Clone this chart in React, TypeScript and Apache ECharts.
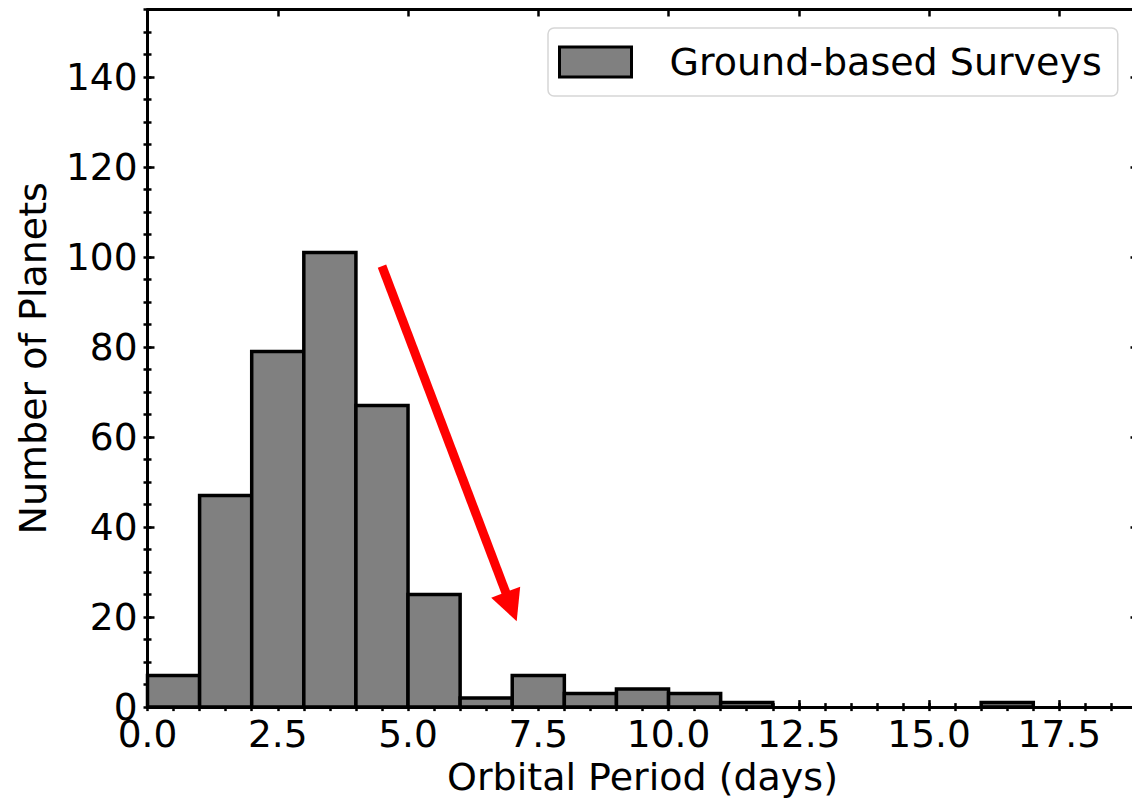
import React, { useEffect, useRef } from "react";
import * as echarts from "echarts";

// Histogram bins (orbital period, days) and counts
const binEdges = [0, 1, 2, 3, 4, 5, 6, 7, 8, 9, 10, 11, 12, 13, 14, 15, 16, 17];
const counts = [7, 47, 79, 101, 67, 25, 2, 7, 3, 4, 3, 1, 0, 0, 0, 0, 1];
const seriesName = "Ground-based Surveys";
// Annotation arrow (data coords): tail, head centre
const arrowFrom = [4.5, 98];
const arrowTo = [6.98, 22.3];
// Axis ranges
const xRange = [0, 19];
const yRange = [0, 155];
const xMajor = 2.5;
const xMinor = 0.5;
const yMajor = 20;
const yMinor = 5;

const FONT = "DejaVu Sans";

export default function App() {
  const ref = useRef<HTMLDivElement>(null);
  useEffect(() => {
    if (!ref.current) return;
    const chart = echarts.init(ref.current, null, { renderer: "svg" });
    const data = counts.map((c, i) => [binEdges[i], binEdges[i] + 1, c]);

    const baseX = {
      type: "value",
      min: xRange[0],
      max: xRange[1],
      splitLine: { show: false },
    };
    const baseY = {
      type: "value",
      min: yRange[0],
      max: yRange[1],
      splitLine: { show: false },
    };
    const majorTick = { show: true, inside: true, length: 7, lineStyle: { color: "#000", width: 2.5 } };
    const minorTickAx = { show: true, inside: true, length: 4, lineStyle: { color: "#000", width: 2.5 } };
    const axLine = { show: true, onZero: false, lineStyle: { color: "#000", width: 3 } };

    chart.setOption({
      animation: false,
      backgroundColor: "#fff",
      grid: { left: 147.5, top: 9.5, width: 990, height: 700.5, containLabel: false },
      legend: {
        left: 548,
        top: 28,
        orient: "horizontal",
        padding: [15, 16, 15, 10],
        backgroundColor: "#fff",
        borderColor: "#d6d6d6",
        borderWidth: 1.5,
        borderRadius: 6,
        itemWidth: 72,
        itemHeight: 30,
        data: [
          {
            name: seriesName,
            icon: "rect",
            itemStyle: { color: "#808080", borderColor: "#000", borderWidth: 3 },
          },
        ],
        textStyle: { fontFamily: FONT, fontSize: 38, color: "#000", padding: [0, 0, 0, 33] },
      },
      xAxis: [
        {
          ...baseX,
          position: "bottom",
          interval: xMajor,
          axisLine: axLine,
          axisTick: majorTick,
          axisLabel: {
            show: true,
            margin: 8,
            fontFamily: FONT,
            fontSize: 37.5,
            color: "#000",
            showMaxLabel: false,
            formatter: (v: number) => v.toFixed(1),
          },
          name: "Orbital Period (days)",
          nameLocation: "middle",
          nameGap: 47,
          nameTextStyle: { fontFamily: FONT, fontSize: 38, color: "#000" },
        },
        {
          ...baseX,
          position: "top",
          interval: xMajor,
          axisLine: axLine,
          axisTick: majorTick,
          axisLabel: { show: false },
        },
        {
          ...baseX,
          position: "bottom",
          interval: xMinor,
          axisLine: { show: false },
          axisTick: minorTickAx,
          axisLabel: { show: false },
        },
        {
          ...baseX,
          position: "top",
          interval: xMinor,
          axisLine: { show: false },
          axisTick: minorTickAx,
          axisLabel: { show: false },
        },
      ],
      yAxis: [
        {
          ...baseY,
          position: "left",
          interval: yMajor,
          axisLine: axLine,
          axisTick: majorTick,
          axisLabel: {
            show: true,
            margin: 10,
            fontFamily: FONT,
            fontSize: 37.5,
            color: "#000",
            showMaxLabel: false,
          },
          name: "Number of Planets",
          nameLocation: "middle",
          nameGap: 96,
          nameTextStyle: { fontFamily: FONT, fontSize: 38, color: "#000" },
        },
        {
          ...baseY,
          position: "right",
          interval: yMajor,
          axisLine: axLine,
          axisTick: majorTick,
          axisLabel: { show: false },
        },
        {
          ...baseY,
          position: "left",
          interval: yMinor,
          axisLine: { show: false },
          axisTick: minorTickAx,
          axisLabel: { show: false },
        },
        {
          ...baseY,
          position: "right",
          interval: yMinor,
          axisLine: { show: false },
          axisTick: minorTickAx,
          axisLabel: { show: false },
        },
      ],
      series: [
        {
          type: "custom",
          name: seriesName,
          xAxisIndex: 0,
          yAxisIndex: 0,
          data,
          encode: { x: [0, 1], y: 2 },
          itemStyle: { color: "#808080", borderColor: "#000", borderWidth: 3 },
          renderItem: (params: any, api: any) => {
            const v = api.value(2);
            if (!v) return null;
            const p0 = api.coord([api.value(0), v]);
            const p1 = api.coord([api.value(1), 0]);
            return {
              type: "rect",
              shape: { x: p0[0], y: p0[1], width: p1[0] - p0[0], height: p1[1] - p0[1] },
              style: { fill: "#808080", stroke: "#000", lineWidth: 3.5 },
            };
          },
          z: 3,
        },
        {
          type: "lines",
          coordinateSystem: "cartesian2d",
          xAxisIndex: 0,
          yAxisIndex: 0,
          silent: true,
          symbol: ["none", "triangle"],
          symbolSize: [32, 31],
          lineStyle: { color: "#ff0000", width: 9, opacity: 1 },
          itemStyle: { color: "#ff0000" },
          data: [{ coords: [arrowFrom, arrowTo] }],
          z: 4,
        },
      ],
    });
    return () => chart.dispose();
  }, []);

  return (
    <div style={{ position: "fixed", left: 0, top: 0, width: 1132, height: 801, overflow: "hidden", background: "#fff" }}>
      <div ref={ref} style={{ width: 1160, height: 801 }} />
    </div>
  );
}
